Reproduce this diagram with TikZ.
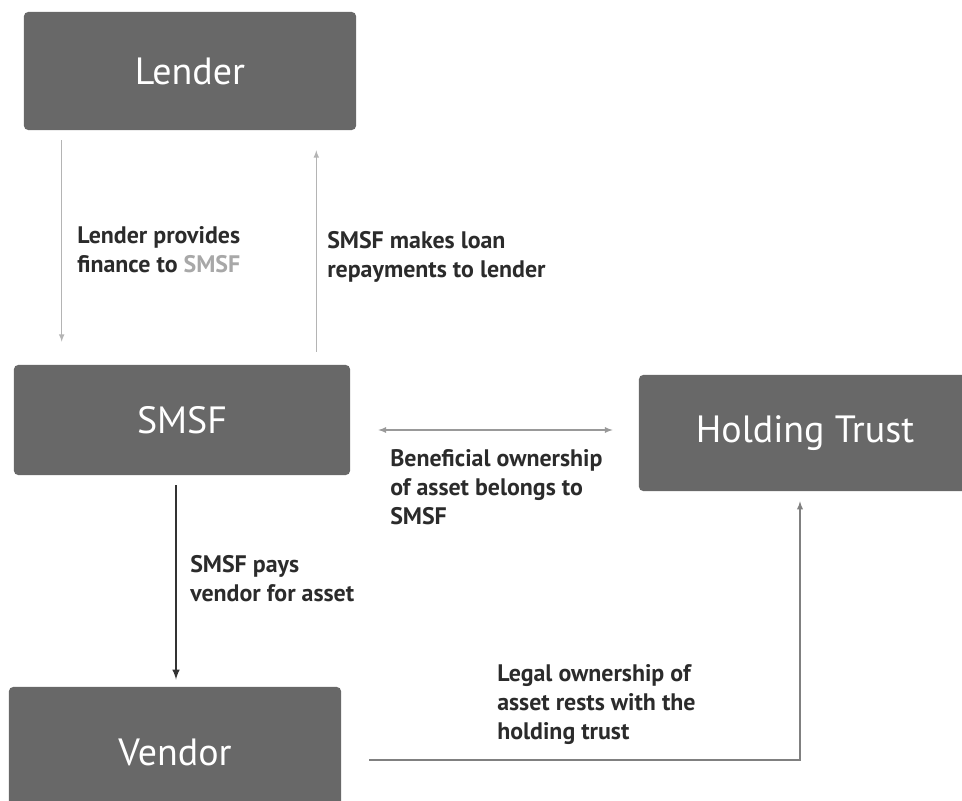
\documentclass[tikz,border=0pt]{standalone}
\usepackage{fontspec}
\setmainfont{PT Sans}
\usepackage{xcolor}
\usepackage{tikz}
\usetikzlibrary{arrows}

\definecolor{boxgray}{HTML}{686868}
\definecolor{notegray}{HTML}{2B2B2B}
\definecolor{linegray}{HTML}{B4B4B4}
\definecolor{softgray}{HTML}{A8A8A8}

\tikzset{
    party/.style = {fill = boxgray, rounded corners = 3pt, text = white,
        font = \fontsize{27}{32}\selectfont, inner sep = 0pt},
    note/.style = {anchor = north west, align = left, inner sep = 0pt,
        text = notegray, font = \bfseries\fontsize{17}{20.6}\selectfont},
    flow/.style = {draw = linegray, line width = 0.8pt, -latex},
    pay/.style = {draw = black!80, line width = 1.4pt, -latex},
    both/.style = {draw = black!40, line width = 0.9pt, latex-latex},
    legal/.style = {draw = black!50, line width = 1pt, -latex}
}

\begin{document}
\begin{tikzpicture}[x = 0.025cm, y = -0.025cm]
        \useasboundingbox (0, 0) rectangle (962, 801);
        \clip (0, 0) rectangle (962, 801);

        \node[party, minimum width = 8.3cm, minimum height = 2.95cm] (lender) at (190, 71) {Lender};
        \node[party, minimum width = 8.4cm, minimum height = 2.75cm] (smsf) at (182, 420) {SMSF};
        \node[party, minimum width = 8.3cm, minimum height = 2.9cm] (trust) at (805, 433) {Holding Trust};
        \node[party, minimum width = 8.3cm, minimum height = 3.25cm] (vendor) at (175, 752) {Vendor};

        \draw[flow, shorten <= 0.25cm, shorten >= 0.575cm]
            ([xshift = 0.95cm]lender.south west) -- ([xshift = 0.95cm]lender.south west |- smsf.north);
        \draw[flow, shorten <= 0.33cm, shorten >= 0.5cm]
            ([xshift = -1cm]lender.south east |- smsf.north) -- ([xshift = -1cm]lender.south east);
        \draw[pay, shorten <= 0.25cm, shorten >= 0.18cm]
            ([xshift = -0.15cm]smsf.south) -- ([xshift = -0.15cm]smsf.south |- vendor.north);
        \draw[both, shorten <= 0.7cm, shorten >= 0.65cm]
            ([yshift = -0.25cm]smsf.east) -- ([yshift = -0.25cm]smsf.east -| trust.west);
        \draw[legal]
            ([xshift = 0.7cm, yshift = -0.2cm]vendor.east) -| ([xshift = -0.125cm, yshift = -0.25cm]trust.south);

        \node[note] (lendnote) at (77, 226) {Lender provides\\finance to \textcolor{softgray}{SMSF}};
        \node[note] (paynote) at (327, 231) {SMSF makes loan\\repayments to lender};
        \node[note] (benenote) at (390, 449) {Beneficial ownership\\of asset belongs to\\SMSF};
        \node[note] (buynote) at (190, 555) {SMSF pays\\vendor for asset};
        \node[note] (legalnote) at (497, 664) {Legal ownership of\\asset rests with the\\holding trust};
\end{tikzpicture}
\end{document}
